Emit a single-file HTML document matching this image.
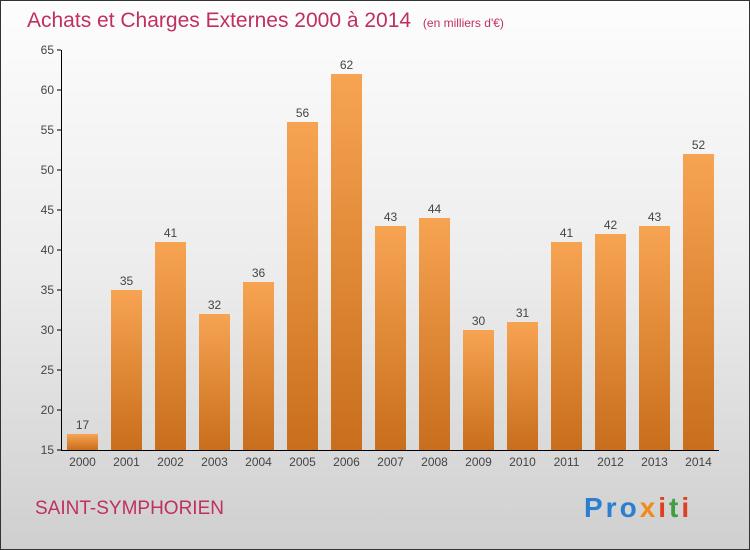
<!DOCTYPE html>
<html><head><meta charset="utf-8"><style>
body{margin:0}
#c{position:relative;width:748px;height:548px;border:1px solid #333;background:linear-gradient(#fdfdfd 0%,#ececec 50%,#cfcfcf 100%);font-family:"Liberation Sans",sans-serif;overflow:hidden}
</style></head><body>
<div id="c">
<svg id="s" width="748" height="548">
<defs><linearGradient id="g" x1="0" y1="0" x2="0" y2="1"><stop offset="0" stop-color="#f7a452"/><stop offset="1" stop-color="#c86e1c"/></linearGradient></defs>
<text x="26" y="26" font-size="21" fill="#c0305e">Achats et Charges Externes 2000 à 2014 <tspan font-size="12" dx="6">(en milliers d'€)</tspan></text>
<text x="34" y="513" font-size="19" fill="#c0305e">SAINT-SYMPHORIEN</text>
<text x="583" y="516" font-size="28" font-weight="bold" letter-spacing="3"><tspan fill="#2a7fd0">Pro</tspan><tspan fill="#f08a1a">x</tspan><tspan fill="#e04020">i</tspan><tspan fill="#40a040">t</tspan><tspan fill="#e04020">i</tspan></text>
<g id="plot"></g>
</svg></div>
<script>
const years=["2000","2001","2002","2003","2004","2005","2006","2007","2008","2009","2010","2011","2012","2013","2014"];
const values=[17,35,41,32,36,56,62,43,44,30,31,41,42,43,52];
const ticks=[15,20,25,30,35,40,45,50,55,60,65];
const ns="http://www.w3.org/2000/svg",p=document.getElementById('plot');
const y=v=>449-(v-15)*8, x=i=>81.5+i*44;
function mk(t,a){const e=document.createElementNS(ns,t);for(const k in a)e.setAttribute(k,a[k]);p.appendChild(e);return e;}
ticks.forEach(t=>{
const l=mk('line',{x1:56,x2:60,y1:y(t),y2:y(t),stroke:'#000'});


const tx=mk('text',{x:53,y:y(t)+4,'text-anchor':'end','font-size':12,fill:'#444'});tx.textContent=t;


});
values.forEach((v,i)=>{
const r=mk('rect',{x:x(i)-15.5,y:y(v),width:31,height:449-y(v),fill:'url(#g)'});


const t=mk('text',{x:x(i),y:y(v)-5,'text-anchor':'middle','font-size':12,fill:'#444'});t.textContent=v;


const yl=mk('text',{x:x(i),y:465,'text-anchor':'middle','font-size':12,fill:'#444'});yl.textContent=years[i];


});
const ax=mk('path',{d:'M60.5 49V449.5H718',stroke:'#000',fill:'none'});


</script>
</body></html>
